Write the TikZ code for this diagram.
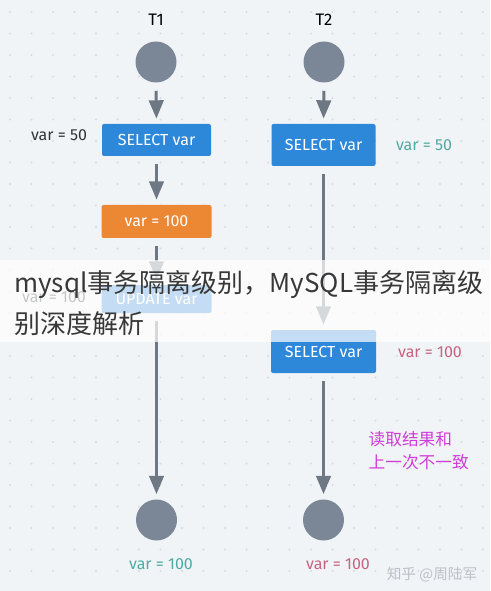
\documentclass[tikz,border=0pt]{standalone}
\usepackage{fontspec}
\setmainfont{Fira Sans}
\newfontfamily\cjk{Noto Sans CJK SC}
\usetikzlibrary{arrows}
\definecolor{bgpaper}{HTML}{F1F4F7}
\definecolor{bgdotc}{HTML}{D6DBE1}
\definecolor{stategray}{HTML}{7B8797}
\definecolor{flowgray}{HTML}{6E7884}
\definecolor{opblue}{HTML}{2D88D9}
\definecolor{oporange}{HTML}{EC8734}
\definecolor{tealtxt}{HTML}{4FA9A4}
\definecolor{rosetxt}{HTML}{C8627F}
\definecolor{magtxt}{HTML}{D03CDA}
\definecolor{marktxt}{HTML}{BCC1C7}

\begin{document}
\begin{tikzpicture}[x=0.75pt,y=-0.75pt,
  state/.style={circle,fill=stategray,minimum size=30.75pt,inner sep=0pt},
  op/.style={rounded corners=1.5pt,text=white,inner sep=0pt,font=\fontsize{12}{14}\selectfont},
  flow/.style={draw=flowgray,line width=2.2pt,-triangle 45,shorten <=6pt,shorten >=4pt},
  val/.style={font=\fontsize{12}{14}\selectfont}]
% paper and dots
\fill[bgpaper] (0,0) rectangle (490,591);
\useasboundingbox (0,0) rectangle (490,591);
\foreach \i in {0,...,22}{
  \foreach \j in {0,...,27}{
    \fill[bgdotc] (10+21.5*\i,12+21.5*\j) circle (0.8pt);
  }
}
\draw
(156,20) node[font=\fontsize{12.5}{14}\selectfont](t1){T1}
(324,20) node[font=\fontsize{12.5}{14}\selectfont](t2){T2}
(156,62) node[state](s1){}
(324,62) node[state](s2){}
(156.5,140) node[op,fill=opblue,minimum width=81.75pt,minimum height=24pt](sel1){SELECT var}
(323.5,145) node[op,fill=opblue,minimum width=78pt,minimum height=31.5pt](sel2){SELECT var}
(156.5,221.5) node[op,fill=oporange,minimum width=82.5pt,minimum height=24.75pt](set1){var = 100}
(156.5,299) node[op,fill=opblue,minimum width=82.5pt,minimum height=21pt](upd1){UPDATE var}
(323.5,351.5) node[op,fill=opblue,minimum width=78.75pt,minimum height=32.25pt](sel3){SELECT var}
(156.5,520) node[state](e1){}
(323.5,520) node[state](e2){}
;
\foreach \x/\y in {s1/sel1, sel1/set1, set1/upd1, upd1/e1, s2/sel2, sel2/sel3, sel3/e2}{
\draw[flow](\x.south)--(\y.north);
}
% values read and written
\node[val,text=black!80] (r1) at (59,135) {var = 50};
\node[val,text=tealtxt] (r2) at (424,145) {var = 50};
\node[val,text=black!80] (w1) at (54,297) {var = 100};
\node[val,text=rosetxt] (r3) at (430,352) {var = 100};
\node[val,text=tealtxt] (f1) at (161,564) {var = 100};
\node[val,text=rosetxt] (f2) at (338,564) {var = 100};
\node[text=magtxt,align=left,anchor=west,font=\cjk\fontsize{12.5}{17}\selectfont] (note) at (364,451) {读取结果和\\上一次不一致};
% page overlay
\fill[white,opacity=0.72] (0,260) rectangle (490,342);
\node[anchor=base west,inner sep=0pt,text=black!78,font=\cjk\fontsize{19.5}{20}\selectfont] (ttl1) at (14,292) {mysql事务隔离级别，MySQL事务隔离级};
\node[anchor=base west,inner sep=0pt,text=black!78,font=\cjk\fontsize{19.5}{20}\selectfont] (ttl2) at (14,333) {别深度解析};
\node[text=marktxt,font=\cjk\fontsize{11}{12}\selectfont] (mark) at (432,575) {知乎 @周陆军};
\end{tikzpicture}
\end{document}
